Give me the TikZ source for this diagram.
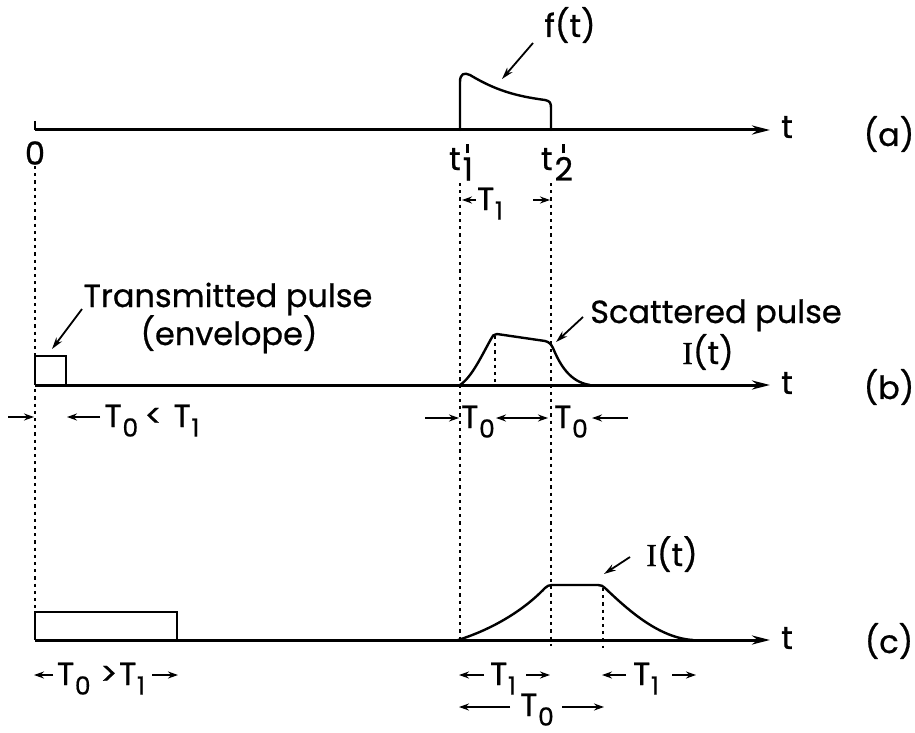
\documentclass[tikz,border=0pt]{standalone}
\usepackage{fontspec}
\setmainfont{Poppins}[FakeBold=0.7]
\newfontfamily\serifI{Liberation Serif}[FakeBold=0.7]
\usetikzlibrary{arrows.meta}
\newcommand{\Tsub}[1]{T\kern0.02em\raisebox{-0.55ex}{\fontsize{12.5}{13}\selectfont #1}}
\newcommand{\tpr}[1]{t\kern0.06em\raisebox{-0.6ex}{\ooalign{\hfil\raisebox{1.55ex}{\rule{0.09em}{0.28em}}\hfil\cr #1\cr}}}
\newcommand{\It}{{\serifI I}(t)}
\begin{document}
\begin{tikzpicture}[x=0.5pt,y=-0.5pt,
  font=\fontsize{16}{19}\selectfont,
  axis/.style={line width=1.5pt,-{Stealth[length=9pt,width=4.5pt]}},
  curve/.style={line width=1.2pt,line join=round,line cap=round},
  boxline/.style={line width=1.1pt,line join=miter},
  guide/.style={line width=0.7pt,dash pattern=on 1.6pt off 2pt},
  dim/.style={line width=0.8pt,-{Stealth[length=5pt,width=3.5pt]}},
  leader/.style={line width=0.9pt,-{Stealth[length=6pt,width=3.5pt]}},
  lbl/.style={inner sep=0pt,anchor=base},
  ctr/.style={inner sep=0pt}]
\useasboundingbox (0,0) rectangle (915,733);

% ---------------- panel (a) ----------------
\coordinate (A0) at (35,130); \coordinate (A1) at (770,130);
\coordinate (Atick) at (35,121);
\draw[line width=1.2pt] (Atick) -- (A0);
\draw[axis] (A0) -- (A1);
\node[ctr] (ta) at (787,127) {t};
\node[ctr] (la) at (889,134) {(a)};
\node[ctr] (zero) at (35,153) {0};

\draw[curve] (460,130) -- (460,82) .. controls (460,74) and (464,72) .. (470,75)
  .. controls (495,90) and (515,96) .. (545,100)
  .. controls (550,101) and (551,103) .. (551,108) -- (551,130);

\node[lbl] (ft) at (570,37) {f(t)};
\coordinate (ftS) at (533,43); \coordinate (ftE) at (502,79);
\draw[leader] (ftS) -- (ftE);

\node[lbl] (t1) at (461,170) {\tpr{1}};
\node[lbl] (t2) at (557,170) {\tpr{2}};

% guides
\coordinate (g0s) at (35,166); \coordinate (g0e) at (35,612);
\coordinate (g1s) at (460,183); \coordinate (g1e) at (460,640);
\coordinate (g2s) at (551,183); \coordinate (g2e) at (551,646);
\draw[guide] (g0s) -- (g0e);
\draw[guide] (g1s) -- (g1e);
\draw[guide] (g2s) -- (g2e);

% T1 dimension (a)
\node[lbl] (T1a) at (490,210) {\Tsub{1}};
\coordinate (da1) at (476,200); \coordinate (da2) at (462,200);
\coordinate (da3) at (533,200); \coordinate (da4) at (550,200);
\draw[dim] (da1) -- (da2);
\draw[dim] (da3) -- (da4);

% ---------------- panel (b) ----------------
\coordinate (B0) at (35,385); \coordinate (B1) at (770,385);
\draw[axis] (B0) -- (B1);
\node[ctr] (tb) at (787,383) {t};
\node[ctr] (lb) at (889,387) {(b)};

\coordinate (bx1) at (35,356); \coordinate (bx2) at (66,356); \coordinate (bx3) at (66,385);
\draw[boxline] (B0) -- (bx1) -- (bx2) -- (bx3);

\node[lbl] (trans) at (228,307) {Transmitted pulse};
\node[lbl] (env) at (229,345) {(envelope)};
\coordinate (trS) at (82,309); \coordinate (trE) at (52,349);
\draw[leader] (trS) -- (trE);

\draw[curve] (460,385) .. controls (472,377) and (482,355) .. (491,339)
  .. controls (492,336) and (494,334) .. (497,334) -- (545,341)
  .. controls (549,342) and (551,344) .. (553,348)
  .. controls (560,365) and (570,382) .. (590,385);
\coordinate (gbs) at (495,336); \coordinate (gbe) at (495,385);
\draw[guide] (gbs) -- (gbe);

\node[lbl] (scat) at (716,323) {Scattered pulse};
\node[lbl] (Ib) at (708,364) {\It};
\coordinate (scS) at (583,317); \coordinate (scE) at (556,342);
\draw[leader] (scS) -- (scE);

% dimensions (b)
\coordinate (db1) at (8,417); \coordinate (db2) at (34,417);
\coordinate (db3) at (100,417); \coordinate (db4) at (67,417);
\draw[dim] (db1) -- (db2);
\draw[dim] (db3) -- (db4);
\node[lbl] (Tcmp) at (152,427) {\Tsub{0}\kern0.2em<\kern0.35em\Tsub{1}};

\coordinate (db5) at (425,418); \coordinate (db6) at (459,418);
\coordinate (db7) at (521,418); \coordinate (db8) at (496,418);
\coordinate (db9) at (548,418);
\coordinate (db10) at (628,418); \coordinate (db11) at (592,418);
\draw[dim] (db5) -- (db6);
\draw[dim] (db7) -- (db8);
\draw[dim] (db7) -- (db9);
\draw[dim] (db10) -- (db11);
\node[lbl] (T0b1) at (478,428) {\Tsub{0}};
\node[lbl] (T0b2) at (571,428) {\Tsub{0}};

% ---------------- panel (c) ----------------
\coordinate (C0) at (35,640); \coordinate (C1) at (770,640);
\draw[axis] (C0) -- (C1);
\node[ctr] (tc) at (787,638) {t};
\node[ctr] (lc) at (889,641) {(c)};

\coordinate (cx1) at (35,612); \coordinate (cx2) at (177,612); \coordinate (cx3) at (177,640);
\draw[boxline] (C0) -- (cx1) -- (cx2) -- (cx3);

\draw[curve] (458,640) .. controls (490,630) and (522,612) .. (545,588)
  .. controls (547,586) and (549,585) .. (552,585) -- (598,585)
  .. controls (601,585) and (603,586) .. (605,588)
  .. controls (630,612) and (660,638) .. (693,640);
\coordinate (gcs) at (603,588); \coordinate (gce) at (603,648);
\draw[guide] (gcs) -- (gce);

\node[lbl] (Ic) at (672,566) {\It};
\coordinate (icS) at (630,557); \coordinate (icE) at (604,574);
\draw[leader] (icS) -- (icE);

% dimensions (c)
\coordinate (dc1) at (53,675); \coordinate (dc2) at (34,675);
\coordinate (dc3) at (152,675); \coordinate (dc4) at (178,675);
\draw[dim] (dc1) -- (dc2);
\draw[dim] (dc3) -- (dc4);
\node[lbl] (Tcmp2) at (101,685) {\Tsub{0}\kern0.3em>\kern0.05em\Tsub{1}};

\coordinate (dc5) at (484,675); \coordinate (dc6) at (459,675);
\coordinate (dc7) at (526,675); \coordinate (dc8) at (550,675);
\draw[dim] (dc5) -- (dc6);
\draw[dim] (dc7) -- (dc8);
\node[lbl] (T1c1) at (503,685) {\Tsub{1}};

\coordinate (dc9) at (626,675); \coordinate (dc10) at (602,675);
\coordinate (dc11) at (672,675); \coordinate (dc12) at (696,675);
\draw[dim] (dc9) -- (dc10);
\draw[dim] (dc11) -- (dc12);
\node[lbl] (T1c2) at (646,685) {\Tsub{1}};

\coordinate (dc13) at (510,707); \coordinate (dc14) at (459,707);
\coordinate (dc15) at (562,707); \coordinate (dc16) at (604,707);
\draw[dim] (dc13) -- (dc14);
\draw[dim] (dc15) -- (dc16);
\node[lbl] (T0c) at (537,716) {\Tsub{0}};
\end{tikzpicture}
\end{document}
